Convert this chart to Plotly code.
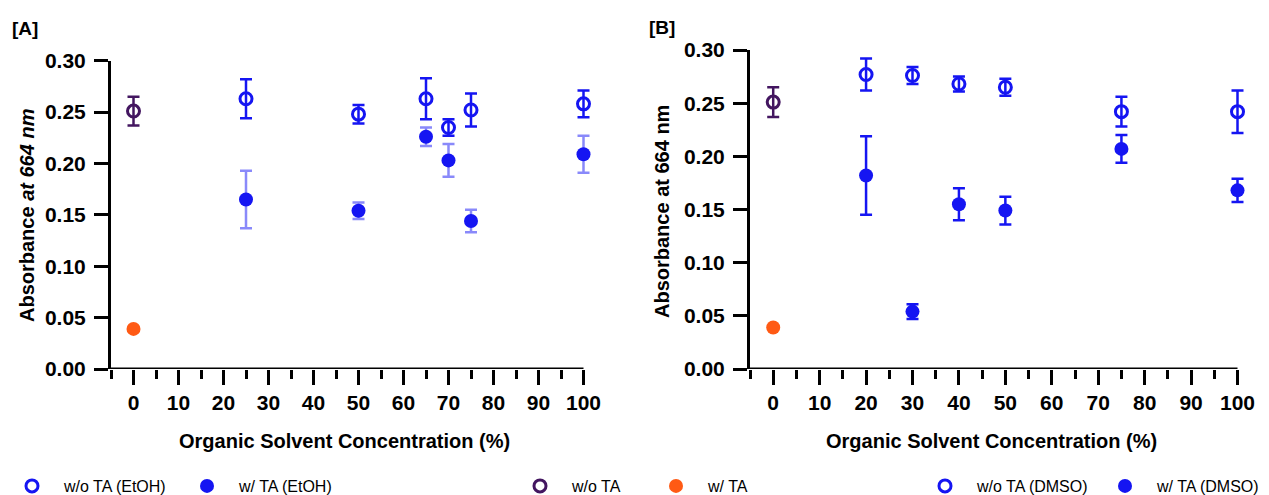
import plotly.graph_objects as go

# ---------------- data ----------------
# Controls (no organic solvent)
ctrl_x = [0]
ctrl_wo_ta = [0.251]
ctrl_wo_ta_err = [0.014]
ctrl_w_ta = [0.039]

# Panel A: ethanol
etoh_x = [25, 50, 65, 70, 75, 100]
etoh_wo_ta = [0.263, 0.248, 0.263, 0.235, 0.252, 0.258]
etoh_wo_ta_err = [0.019, 0.009, 0.020, 0.008, 0.016, 0.013]
etoh_w_ta = [0.165, 0.154, 0.226, 0.203, 0.144, 0.209]
etoh_w_ta_err = [0.028, 0.008, 0.009, 0.016, 0.011, 0.018]

# Panel B: DMSO
dmso_x = [20, 30, 40, 50, 75, 100]
dmso_wo_ta = [0.277, 0.276, 0.268, 0.265, 0.242, 0.242]
dmso_wo_ta_err = [0.015, 0.008, 0.007, 0.008, 0.014, 0.020]
dmso_w_ta = [0.182, 0.054, 0.155, 0.149, 0.207, 0.168]
dmso_w_ta_err = [0.037, 0.007, 0.015, 0.013, 0.013, 0.011]

x_ticks = [0, 10, 20, 30, 40, 50, 60, 70, 80, 90, 100]
y_ticks = [0.00, 0.05, 0.10, 0.15, 0.20, 0.25, 0.30]

# ---------------- style ----------------
BLUE = "#1515f2"
BLUE_LIGHT = "rgba(40,40,245,0.55)"
PURPLE = "#431660"
ORANGE = "#ff5a14"
FONT = "Liberation Sans, Arial, sans-serif"
W, H = 1269, 495
X_RANGE = [-5, 100]


def px_x(p):
    return p / W


def px_y(p):
    return (H - p) / H


# plot-area edges (px); the x axis line runs over X_RANGE only, while the
# plot area gets a little extra room on the right so error-bar caps at
# x = 100 are not clipped
A_LEFT, A_RIGHT = 111, 583.5
B_LEFT, B_RIGHT = 750, 1237.5
PAD = 14


def x_domain_range(left, right):
    scale = (right - left) / (X_RANGE[1] - X_RANGE[0])
    return ([px_x(left), px_x(right + PAD)],
            [X_RANGE[0], X_RANGE[1] + PAD / scale])


A_DOM, A_RNG = x_domain_range(A_LEFT, A_RIGHT)
B_DOM, B_RNG = x_domain_range(B_LEFT, B_RIGHT)

fig = go.Figure()


def open_trace(x, y, err, color, name, xa, ya, legend, show, ecolor=None):
    return go.Scatter(
        x=x, y=y, mode="markers", name=name, legend=legend, showlegend=show,
        xaxis=xa, yaxis=ya, cliponaxis=False,
        marker=dict(symbol="circle-open", size=12, color=color,
                    line=dict(width=3, color=color)),
        error_y=dict(type="data", array=err, visible=True,
                     color=ecolor or color, thickness=2.5, width=6),
    )


def filled_trace(x, y, err, color, name, xa, ya, legend, show, ecolor=None):
    t = go.Scatter(
        x=x, y=y, mode="markers", name=name, legend=legend, showlegend=show,
        xaxis=xa, yaxis=ya, cliponaxis=False,
        marker=dict(symbol="circle", size=14, color=color,
                    line=dict(width=0)),
    )
    if err is not None:
        t.error_y = dict(type="data", array=err, visible=True,
                         color=ecolor or color, thickness=2.5, width=6)
    return t


# Panel A
fig.add_trace(open_trace(etoh_x, etoh_wo_ta, etoh_wo_ta_err, BLUE,
                         "w/o TA (EtOH)", "x", "y", "legend", True))
fig.add_trace(filled_trace(etoh_x, etoh_w_ta, etoh_w_ta_err, BLUE,
                           "w/ TA (EtOH)", "x", "y", "legend", True,
                           ecolor=BLUE_LIGHT))
fig.add_trace(open_trace(ctrl_x, ctrl_wo_ta, ctrl_wo_ta_err, PURPLE,
                         "w/o TA", "x", "y", "legend2", True))
fig.add_trace(filled_trace(ctrl_x, ctrl_w_ta, None, ORANGE,
                           "w/ TA", "x", "y", "legend2", True))

# Panel B
fig.add_trace(open_trace(dmso_x, dmso_wo_ta, dmso_wo_ta_err, BLUE,
                         "w/o TA (DMSO)", "x2", "y2", "legend3", True))
fig.add_trace(filled_trace(dmso_x, dmso_w_ta, dmso_w_ta_err, BLUE,
                           "w/ TA (DMSO)", "x2", "y2", "legend3", True))
fig.add_trace(open_trace(ctrl_x, ctrl_wo_ta, ctrl_wo_ta_err, PURPLE,
                         "w/o TA", "x2", "y2", "legend2", False))
fig.add_trace(filled_trace(ctrl_x, ctrl_w_ta, None, ORANGE,
                           "w/ TA", "x2", "y2", "legend2", False))

tick_font = dict(family=FONT, size=21, color="black", weight="bold")

xaxis_common = dict(
    tickmode="array", tickvals=x_ticks,
    ticktext=[str(v) for v in x_ticks],
    showline=False,
    ticks="outside", ticklen=15, tickwidth=3, tickcolor="black",
    minor=dict(dtick=5, tick0=0, ticks="outside", ticklen=9,
               tickwidth=3, tickcolor="black"),
    showgrid=False, zeroline=False, tickfont=tick_font, automargin=False,
)
yaxis_common = dict(
    range=[0, 0.30], tickmode="array", tickvals=y_ticks,
    ticktext=[f"{v:.2f}" for v in y_ticks],
    showline=True, linewidth=3, linecolor="black",
    ticks="outside", ticklen=14, tickwidth=3, tickcolor="black",
    showgrid=False, zeroline=False, tickfont=tick_font, ticklabelstandoff=4,
    automargin=False,
)

legend_common = dict(
    orientation="h", xanchor="left", yanchor="middle", y=px_y(486),
    itemwidth=54, font=dict(family=FONT, size=16, color="black"),
    bgcolor="rgba(0,0,0,0)",
)

fig.update_layout(
    width=W, height=H,
    margin=dict(l=0, r=0, t=0, b=0, autoexpand=False),
    paper_bgcolor="white", plot_bgcolor="white",
    font=dict(family=FONT, color="black"),
    xaxis=dict(domain=A_DOM, range=A_RNG, anchor="y", **xaxis_common),
    yaxis=dict(domain=[px_y(369), px_y(60.7)], anchor="x", **yaxis_common),
    xaxis2=dict(domain=B_DOM, range=B_RNG, anchor="y2", **xaxis_common),
    yaxis2=dict(domain=[px_y(369), px_y(50)], anchor="x2", **yaxis_common),
    legend=dict(x=0, entrywidth=106, **legend_common),
    legend2=dict(x=px_x(508), entrywidth=67, **legend_common),
    legend3=dict(x=px_x(913), entrywidth=111, **legend_common),
)

# x axis lines spanning exactly -5 .. 100
for xr, yr in (("x", "y"), ("x2", "y2")):
    fig.add_shape(type="line", xref=xr, yref=yr,
                  x0=X_RANGE[0], x1=X_RANGE[1], y0=0, y1=0,
                  line=dict(color="black", width=3), layer="above")

title_font = dict(family=FONT, size=20, color="black", weight="bold")
annotations = [
    dict(text="[A]", x=px_x(10), y=px_y(28), xanchor="left", yanchor="middle"),
    dict(text="[B]", x=px_x(647), y=px_y(27), xanchor="left", yanchor="middle"),
]
for a in annotations:
    a.update(xref="paper", yref="paper", showarrow=False,
             font=dict(family=FONT, size=19, color="black", weight="bold"))

annotations += [
    dict(text="Absorbance <i>at 664 nm</i>", x=px_x(27), y=px_y(216),
         textangle=-90),
    dict(text="Absorbance at 664 nm", x=px_x(662), y=px_y(212),
         textangle=-90),
    dict(text="Organic Solvent Concentration (%)", x=px_x(344), y=px_y(441)),
    dict(text="Organic Solvent Concentration (%)", x=px_x(991), y=px_y(441)),
]
for a in annotations[2:]:
    a.update(xref="paper", yref="paper", showarrow=False,
             xanchor="center", yanchor="middle", font=title_font)

fig.update_layout(annotations=annotations)

fig.write_html("out.html")
